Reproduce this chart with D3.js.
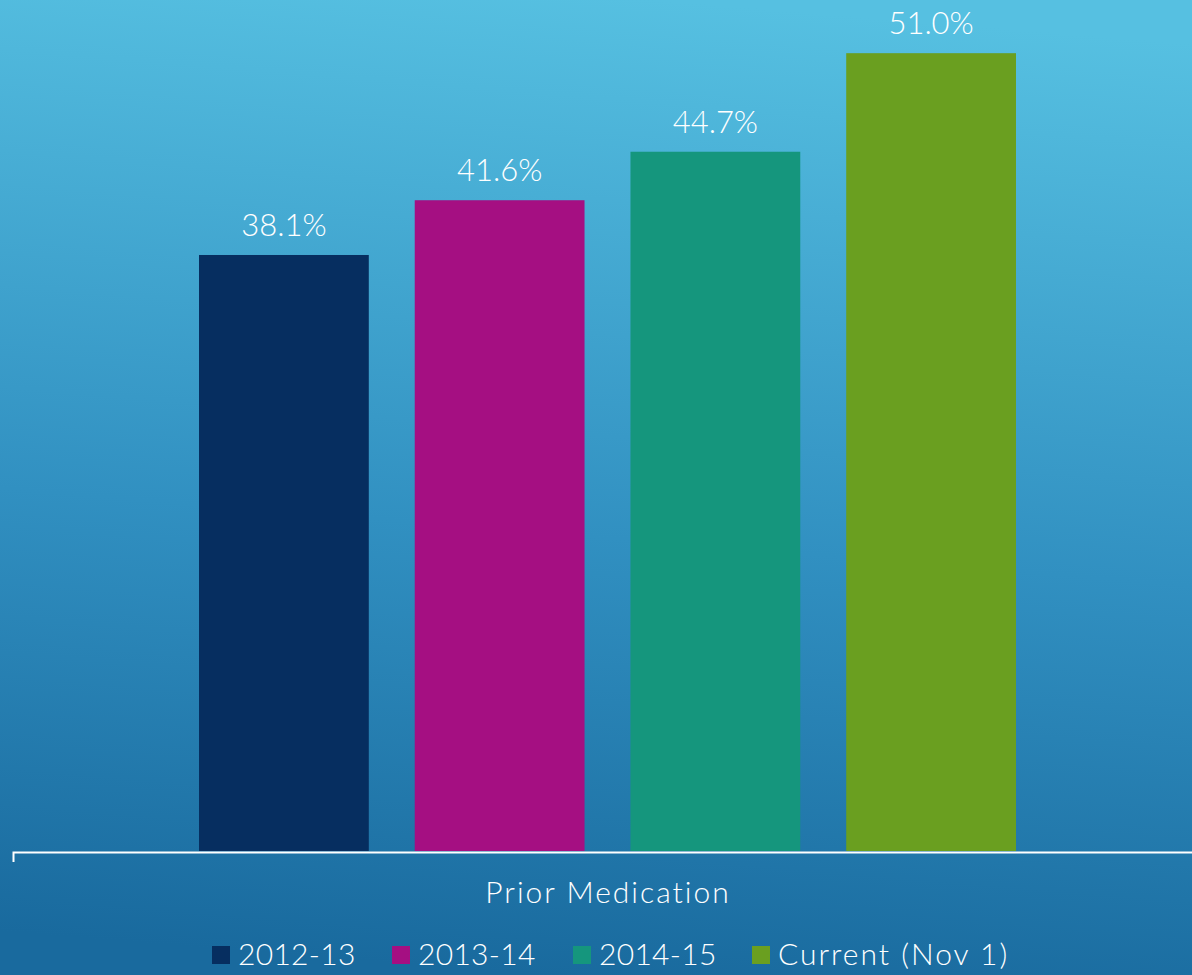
<!DOCTYPE html>
<html>
<head>
<meta charset="utf-8">
<script src="https://cdn.jsdelivr.net/npm/d3@7"></script>
<style>
  body { margin: 0; overflow: hidden; }
  text { font-family: "Lato", "Open Sans", sans-serif; font-weight: 300; fill: #fff; }
</style>
</head>
<body>
<script>
var width = 1192, height = 975
var series = ["2012-13", "2013-14", "2014-15", "Current (Nov 1)"]
var values = [38.1, 41.6, 44.7, 51.0]
var colors = ["#062E60", "#A50F82", "#15967D", "#6A9F20"]
var category = "Prior Medication"

var svg = d3.select("body")
  .append("svg")
  .attr("width", width)
  .attr("height", height)

var defs = svg.append("defs")
var grad = defs.append("linearGradient")
  .attr("id", "bg")
  .attr("x1", "55%").attr("y1", "0%")
  .attr("x2", "45%").attr("y2", "100%")
grad.append("stop").attr("offset", "0%").attr("stop-color", "#56C0E1")
grad.append("stop").attr("offset", "55%").attr("stop-color", "#3190C1")
grad.append("stop").attr("offset", "100%").attr("stop-color", "#196A9E")

svg.append("rect")
  .attr("width", width)
  .attr("height", height)
  .attr("fill", "url(#bg)")

var baseY = 851
var y = d3.scaleLinear().domain([0, 54.4]).range([baseY, 0])
var x = d3.scaleBand().domain(series).range([199, 1016]).paddingInner(0.213).paddingOuter(0)

svg.selectAll("rect.bar")
  .data(values).enter()
  .append("rect")
  .attr("class", "bar")
  .attr("x", function(d, i) { return x(series[i]) })
  .attr("y", function(d) { return y(d) })
  .attr("width", x.bandwidth())
  .attr("height", function(d) { return baseY - y(d) })
  .attr("fill", function(d, i) { return colors[i] })

svg.selectAll("text.val")
  .data(values).enter()
  .append("text")
  .attr("class", "val")
  .attr("x", function(d, i) { return x(series[i]) + x.bandwidth() / 2 })
  .attr("y", function(d) { return y(d) - 19 })
  .attr("text-anchor", "middle")
  .attr("font-size", "31px")
  .text(function(d) { return d.toFixed(1) + "%" })

// category axis
var catScale = d3.scaleBand().domain([category]).range([13, 2202])
var axis = d3.axisBottom(catScale).tickSize(0).tickSizeOuter(10).tickFormat("")
var ax = svg.append("g").attr("transform", "translate(0," + (baseY + 1) + ")").call(axis)
ax.select(".domain").attr("stroke", "#fff").attr("stroke-width", 2)

svg.append("text")
  .attr("x", 608)
  .attr("y", 903)
  .attr("text-anchor", "middle")
  .attr("font-size", "30px")
  .attr("letter-spacing", "2px")
  .text(category)

// legend
var legendX = [212, 392, 573, 752]
var leg = svg.selectAll("g.leg")
  .data(series).enter()
  .append("g")
  .attr("class", "leg")
  .attr("transform", function(d, i) { return "translate(" + legendX[i] + ",946)" })
leg.append("rect")
  .attr("width", 18).attr("height", 18)
  .attr("fill", function(d, i) { return colors[i] })
leg.append("text")
  .attr("x", 26)
  .attr("y", 19)
  .attr("font-size", "30px")
  .attr("letter-spacing", function(d, i) { return i == 3 ? "2px" : "0.3px" })
  .text(function(d) { return d })
</script>
</body>
</html>
